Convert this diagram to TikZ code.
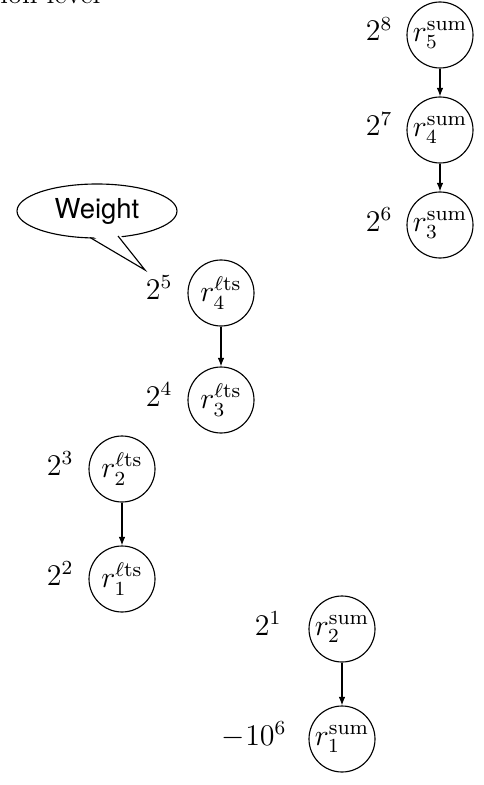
\documentclass[tikz,border=0pt]{standalone}
\usepackage{fontspec}
\newfontfamily\heros{TeX Gyre Heros}
\usetikzlibrary{shapes.geometric,arrows.meta}
\begin{document}
\begin{tikzpicture}[x=0.4pt,y=-0.4pt,
  rnode/.style={circle,draw,line width=0.45pt,minimum size=26.4pt,inner sep=0pt,font=\fontsize{11.8}{14}\selectfont},
  wlabel/.style={anchor=base east,inner sep=0pt,font=\fontsize{11.8}{14}\selectfont},
  edge/.style={draw,line width=0.45pt,-{Latex[length=3.4pt,width=2.6pt]}}]
\useasboundingbox (0,0) rectangle (483,785);
% cut title
\node[anchor=base west,inner sep=0pt,font=\fontsize{11.3}{13}\selectfont] (title) at (0,3.5) {ion level};
% sum column top
\node[rnode] (s5) at (440,35) {$r_5^{\mathrm{sum}}$};
\node[rnode] (s4) at (440,130) {$r_4^{\mathrm{sum}}$};
\node[rnode] (s3) at (440,225) {$r_3^{\mathrm{sum}}$};
\node[wlabel] (w8) at (393,41) {$2^8$};
\node[wlabel] (w7) at (393,136) {$2^7$};
\node[wlabel] (w6) at (393,231) {$2^6$};
% lts upper
\node[rnode] (l4) at (221,293) {$r_4^{\ell\mathrm{ts}}$};
\node[rnode] (l3) at (221,400) {$r_3^{\ell\mathrm{ts}}$};
\node[wlabel] (w5) at (173,299) {$2^5$};
\node[wlabel] (w4) at (173,406) {$2^4$};
% lts lower
\node[rnode] (l2) at (122,469) {$r_2^{\ell\mathrm{ts}}$};
\node[rnode] (l1) at (122,579) {$r_1^{\ell\mathrm{ts}}$};
\node[wlabel] (w3) at (74,475) {$2^3$};
\node[wlabel] (w2) at (74,585) {$2^2$};
% sum lower
\node[rnode] (s2) at (342,629) {$r_2^{\mathrm{sum}}$};
\node[rnode] (s1) at (342,739) {$r_1^{\mathrm{sum}}$};
\node[wlabel] (w1) at (282,635) {$2^1$};
\node[wlabel] (w0) at (287,745) {$-10^6$};
% arrows
\path[edge] (s5) -- (s4);
\path[edge] (s4) -- (s3);
\path[edge] (l4) -- (l3);
\path[edge] (l2) -- (l1);
\path[edge] (s2) -- (s1);
% callout
\node[ellipse,draw,line width=0.45pt,minimum width=64pt,minimum height=21.6pt,inner sep=0pt,font=\heros\fontsize{11}{13}\selectfont] (weight) at (97,211) {Weight};
\coordinate (tip) at (145,270);
\coordinate (b1) at (90,237.5);
\coordinate (b2) at (118,236);
\fill[white] (89,234) -- (tip) -- (119,233) -- cycle;
\draw[line width=0.45pt,line join=miter] (b1) -- (tip) -- (b2);
\end{tikzpicture}
\end{document}
